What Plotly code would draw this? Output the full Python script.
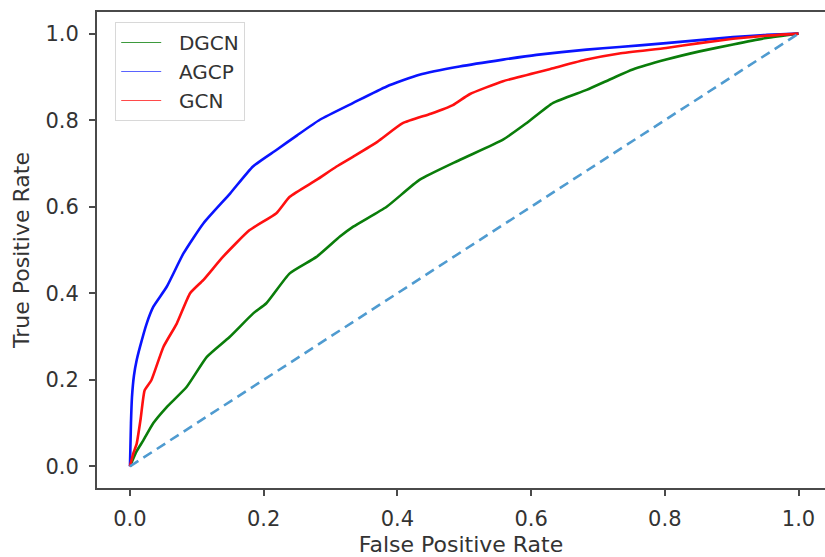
import plotly.graph_objects as go

# ROC curve samples (false positive rate, true positive rate)
dgcn_fpr = [0, 0.01, 0.02, 0.035, 0.055, 0.085, 0.115, 0.149, 0.184, 0.204, 0.239, 0.279,
            0.314, 0.334, 0.384, 0.433, 0.493, 0.558, 0.593, 0.633, 0.683, 0.722, 0.752,
            0.802, 0.852, 0.902, 0.952, 1.0]
dgcn_tpr = [0, 0.035, 0.06, 0.10, 0.137, 0.184, 0.253, 0.299, 0.353, 0.377, 0.446, 0.484,
            0.531, 0.554, 0.600, 0.662, 0.708, 0.755, 0.793, 0.840, 0.870, 0.897, 0.917,
            0.940, 0.959, 0.975, 0.990, 1.0]

agcp_fpr = [0, 0.0015, 0.003, 0.006, 0.01, 0.015, 0.025, 0.035, 0.055, 0.08, 0.11, 0.15,
            0.184, 0.219, 0.25, 0.284, 0.334, 0.384, 0.433, 0.493, 0.558, 0.608, 0.683,
            0.732, 0.802, 0.852, 0.902, 0.95, 1.0]
agcp_tpr = [0, 0.10, 0.16, 0.21, 0.245, 0.276, 0.33, 0.369, 0.415, 0.492, 0.562, 0.631,
            0.693, 0.731, 0.765, 0.801, 0.840, 0.878, 0.905, 0.924, 0.94, 0.951, 0.963,
            0.969, 0.978, 0.985, 0.992, 0.997, 1.0]

gcn_fpr = [0, 0.005, 0.01, 0.016, 0.022, 0.032, 0.05, 0.07, 0.09, 0.11, 0.139, 0.179,
           0.219, 0.239, 0.279, 0.309, 0.334, 0.37, 0.408, 0.45, 0.483, 0.508, 0.558,
           0.633, 0.683, 0.732, 0.802, 0.852, 0.902, 0.95, 1.0]
gcn_tpr = [0, 0.03, 0.052, 0.11, 0.176, 0.199, 0.276, 0.33, 0.40, 0.431, 0.484, 0.546,
           0.585, 0.623, 0.662, 0.693, 0.716, 0.75, 0.793, 0.815, 0.835, 0.860, 0.890,
           0.920, 0.940, 0.954, 0.967, 0.978, 0.988, 0.995, 1.0]

chance_fpr = [0, 1]
chance_tpr = [0, 1]

# name, x, y, curve colour, legend-sample colour
series = [
    ("DGCN", dgcn_fpr, dgcn_tpr, "#0a7d0a", "#3d9a3d"),
    ("AGCP", agcp_fpr, agcp_tpr, "#0a14ff", "#5a63ff"),
    ("GCN", gcn_fpr, gcn_tpr, "#ff1010", "#ff4a4a"),
]

FONT = "DejaVu Sans"
TEXT = "#333333"
AXIS = "#4a4a4a"
GAP = "\u00a0\u00a0"  # extra room between legend sample and label

fig = go.Figure()

for name, fx, ty, color, _ in series:
    fig.add_trace(go.Scatter(x=fx, y=ty, mode="lines", name=name, showlegend=False,
                             line=dict(color=color, width=2.6, shape="spline",
                                       smoothing=0.5)))

fig.add_trace(go.Scatter(x=chance_fpr, y=chance_tpr, mode="lines", showlegend=False,
                         line=dict(color="#4f9bd0", width=2.6, dash="10px,6px")))

# thin legend samples
for name, _, _, _, lcolor in series:
    fig.add_trace(go.Scatter(x=[None], y=[None], mode="lines", name=GAP + name,
                             line=dict(color=lcolor, width=1.2)))

fig.update_layout(
    width=825, height=557,
    margin=dict(l=97, r=0, t=12, b=69),
    paper_bgcolor="white", plot_bgcolor="white",
    font=dict(family=FONT, size=21, color=TEXT),
    legend=dict(x=0.025, y=0.979, xanchor="left", yanchor="top",
                bgcolor="white", bordercolor="#d8d8d8", borderwidth=1,
                itemwidth=40,
                font=dict(size=20, color=TEXT), tracegroupgap=0),
    xaxis=dict(range=[-0.0493, 1.0396], tickvals=[0, 0.2, 0.4, 0.6, 0.8, 1.0],
               ticktext=["0.0", "0.2", "0.4", "0.6", "0.8", "1.0"],
               showgrid=False, zeroline=False, showline=True, mirror=True,
               linecolor=AXIS, linewidth=2, ticks="outside", ticklen=6,
               tickwidth=1.5, tickcolor=AXIS, ticklabelstandoff=5,
               title=dict(text="False Positive Rate", standoff=11,
                          font=dict(size=22, color=TEXT))),
    yaxis=dict(range=[-0.05, 1.05], tickvals=[0, 0.2, 0.4, 0.6, 0.8, 1.0],
               ticktext=["0.0", "0.2", "0.4", "0.6", "0.8", "1.0"],
               showgrid=False, zeroline=False, showline=True, mirror=False,
               linecolor=AXIS, linewidth=2, ticks="outside", ticklen=6,
               tickwidth=1.5, tickcolor=AXIS, ticklabelstandoff=6,
               title=dict(text="True Positive Rate", standoff=10,
                          font=dict(size=22, color=TEXT))),
)

fig.write_html("out.html")
